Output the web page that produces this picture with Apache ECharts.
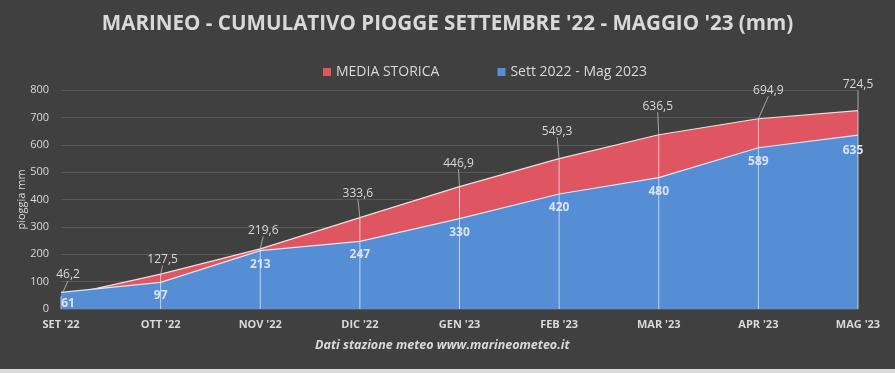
<!DOCTYPE html>
<html><head><meta charset="utf-8">
<script src="https://cdn.jsdelivr.net/npm/echarts@6/dist/echarts.min.js"></script>
<style>html,body{margin:0;padding:0;background:#404040}#c{width:895px;height:373px}</style>
</head><body><div id="c"></div>
<script>
const categories = ["SET '22","OTT '22","NOV '22","DIC '22","GEN '23","FEB '23","MAR '23","APR '23","MAG '23"];
const mediaStorica = [46.2,127.5,219.6,333.6,446.9,549.3,636.5,694.9,724.5];
const stagione = [61,97,213,247,330,420,480,589,635];
const yTicks = {min:0,max:800,interval:100};
const redLabelOffsets = [[7,-15],[2,-8],[3,-12],[-2,-18],[-1,-17],[-2,-21],[-1,-22],[10,-22],[0,-20]];

const FONT = "'Open Sans', sans-serif";
const RED = '#e05562', BLUE = '#558ed5';
const chart = echarts.init(document.getElementById('c'), null, {renderer:'canvas'});
chart.setOption({
  backgroundColor:'#404040',
  animation:false,
  textStyle:{fontFamily:FONT},
  title:{
    text:"MARINEO - CUMULATIVO PIOGGE SETTEMBRE '22 - MAGGIO '23 (mm)",
    left:'center', top:9,
    textStyle:{color:'#d9d9d9',fontSize:20.6,fontWeight:'bold',fontFamily:FONT}
  },
  legend:{
    top:60, left:318, itemWidth:8, itemHeight:8, itemGap:58, itemTextGap:4,
    icon:'rect',
    textStyle:{color:'#d9d9d9',fontSize:14,fontFamily:FONT},
    data:[{name:'MEDIA STORICA',itemStyle:{color:RED}},{name:'Sett 2022 - Mag 2023',itemStyle:{color:BLUE}}]
  },
  graphic:[
    {type:'text', left:315, top:339, style:{text:'Dati stazione meteo www.marineometeo.it', fill:'#d9d9d9', font:"italic bold 12.5px 'Open Sans', sans-serif"}},
    {type:'rect', left:0, top:369, shape:{width:895,height:4}, style:{fill:'#d9d9d9'}}
  ],
  grid:{left:61,right:37,top:90,bottom:64,containLabel:false,outerBoundsMode:'none'},
  xAxis:{
    type:'category', data:categories, boundaryGap:false,
    axisLine:{show:true,lineStyle:{color:'#595959'}},
    axisTick:{show:false},
    axisLabel:{color:'#d9d9d9',fontSize:11,fontWeight:'bold',margin:10,fontFamily:FONT},
    splitLine:{show:false}
  },
  yAxis:{
    type:'value', min:yTicks.min, max:yTicks.max, interval:yTicks.interval,
    name:'pioggia mm', nameLocation:'middle', nameGap:34, nameMoveOverlap:false,
    nameTextStyle:{color:'#d9d9d9',fontSize:11,fontFamily:FONT},
    axisLine:{show:false}, axisTick:{show:false},
    axisLabel:{color:'#d9d9d9',fontSize:11,margin:12,fontFamily:FONT},
    splitLine:{lineStyle:{color:'#595959',width:1}}
  },
  series:[
    {
      name:'MEDIA STORICA', type:'line', data:mediaStorica, z:2,
      symbol:'circle', symbolSize:1, showSymbol:true, color:RED,
      itemStyle:{color:'rgba(0,0,0,0)'},
      lineStyle:{color:'#f4dede',width:1.2},
      areaStyle:{color:RED,opacity:1},
      label:{show:true,position:'top',distance:0,color:'#d9d9d9',fontSize:12,
        formatter:p=>String(p.value).replace('.',',')},
      labelLayout:p=>({dx:redLabelOffsets[p.dataIndex][0],dy:redLabelOffsets[p.dataIndex][1]}),
      labelLine:{show:true,lineStyle:{color:'#a6a6a6',width:1}}
    },
    {
      name:'Sett 2022 - Mag 2023', type:'line', data:stagione, z:3,
      symbol:'circle', symbolSize:1, showSymbol:true, color:BLUE,
      itemStyle:{color:'rgba(0,0,0,0)'},
      lineStyle:{color:'#dce6f2',width:1.2},
      areaStyle:{color:BLUE,opacity:1},
      label:{show:true,position:'bottom',distance:7,color:'#dae3f3',fontSize:12,fontWeight:'bold',
        formatter:p=>String(p.value)},
      labelLayout:p=>p.dataIndex===0?{dx:7,dy:-2}:(p.dataIndex===8?{dx:-5,dy:2}:{})
    },
    {
      name:'drop', type:'bar', data:mediaStorica, z:4, barWidth:1, barGap:'-100%',
      itemStyle:{color:'rgba(230,235,245,0.75)'}, silent:true, tooltip:{show:false}
    }
  ]
});
</script></body></html>
